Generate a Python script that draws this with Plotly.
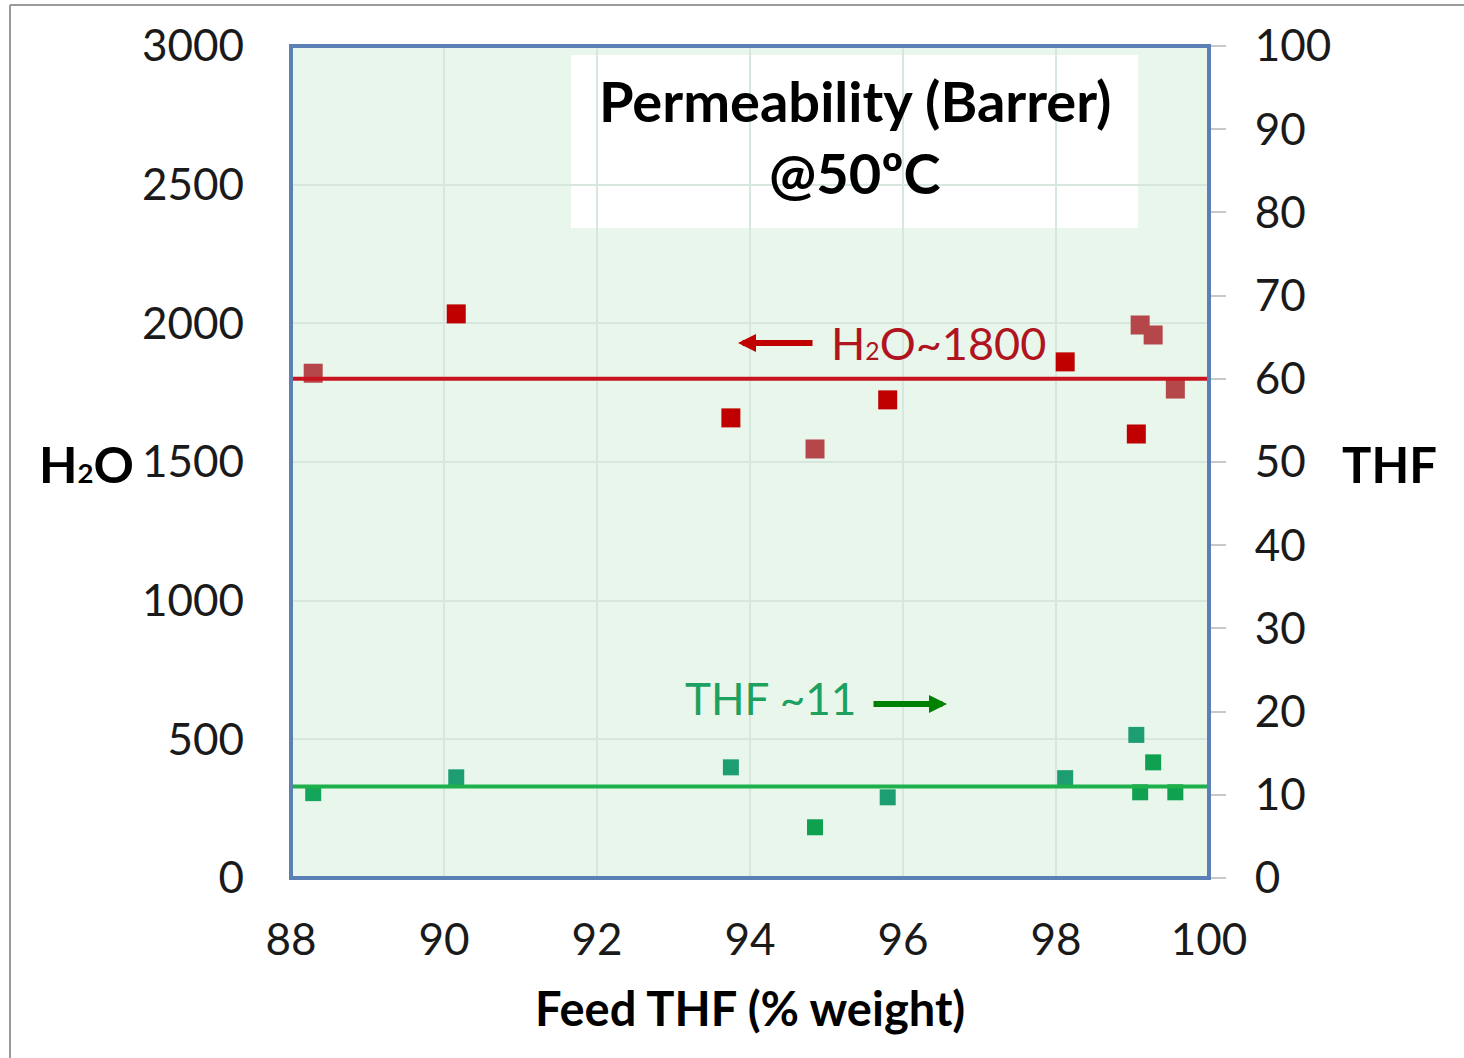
import plotly.graph_objects as go

# ---------------- data ----------------
feed_thf = [88.29, 90.16, 93.75, 94.85, 95.80, 98.12, 99.10, 99.27, 99.56, 99.05]
h2o_perm = [1820, 2034, 1659, 1547, 1724, 1861, 1994, 1958, 1763, 1601]
h2o_colors = ["#B5474A", "#C00000", "#C00000", "#B5474A", "#C00000",
              "#C00000", "#B5474A", "#B5474A", "#B5474A", "#C00000"]

feed_thf_2 = [88.29, 90.16, 93.75, 94.85, 95.80, 98.12, 99.05, 99.27, 99.10, 99.56]
thf_perm = [10.2, 12.1, 13.3, 6.1, 9.7, 12.0, 17.2, 13.9, 10.3, 10.3]
thf_colors = ["#13A55A", "#1C9E72", "#1C9E72", "#0FA050", "#1C9E72",
              "#1C9E72", "#1C9E72", "#0FA050", "#0FA050", "#0FA050"]

h2o_avg = 1800
thf_avg = 11

x_range = [88, 100]
y_left_range = [0, 3000]
y_right_range = [0, 100]

FONT = "Lato"

# plot-area pixel geometry
L, R, T, B = 291, 1209, 46, 878
W, H = 1464, 1058
PW, PH = R - L, B - T


def px(x):
    return (x - L) / PW


def py(y):
    return (B - y) / PH


fig = go.Figure()

fig.add_trace(go.Scatter(
    x=feed_thf, y=h2o_perm, mode="markers",
    marker=dict(symbol="square", size=19, color=h2o_colors, line=dict(width=0)),
    showlegend=False, yaxis="y"))

fig.add_trace(go.Scatter(
    x=feed_thf_2, y=thf_perm, mode="markers",
    marker=dict(symbol="square", size=16, color=thf_colors, line=dict(width=0)),
    showlegend=False, yaxis="y2"))

shapes = [
    # title box
    dict(type="rect", xref="paper", yref="paper", x0=px(571), x1=px(1138),
         y0=py(228), y1=py(55), fillcolor="white", line=dict(width=0), layer="below"),
    # average lines
    dict(type="line", xref="x", yref="y", x0=x_range[0], x1=x_range[1],
         y0=h2o_avg, y1=h2o_avg, line=dict(color="#C8141E", width=4)),
    dict(type="line", xref="x", yref="y2", x0=x_range[0], x1=x_range[1],
         y0=thf_avg, y1=thf_avg, line=dict(color="#1DB04B", width=4)),
    # plot border
    dict(type="rect", xref="paper", yref="paper", x0=0, x1=1, y0=0, y1=1,
         line=dict(color="#5B80B5", width=4)),
    # outer frame (left and top)
    dict(type="line", xref="paper", yref="paper", x0=px(10), x1=px(10),
         y0=py(1058), y1=py(5), line=dict(color="#9A9A9A", width=2)),
    dict(type="line", xref="paper", yref="paper", x0=px(10), x1=px(1464),
         y0=py(5), y1=py(5), line=dict(color="#9A9A9A", width=2)),
]


def label(x, y, text, size, color="black"):
    return dict(xref="paper", yref="paper", x=px(x), y=py(y), text=text,
                xanchor="center", yanchor="middle", showarrow=False,
                font=dict(family=FONT, size=size, color=color))


SUB2 = "<span style='font-size:0.55em'>2</span>"

annotations = [
    label(855, 100, "<b>Permeability (Barrer)</b>", 56),
    label(855, 172, "<b>@50ºC</b>", 56),
    label(938, 343, "H" + SUB2 + "O~1800", 45, "#B0141E"),
    label(770, 698, "THF ~11", 44, "#1DA060"),
    # arrows
    dict(xref="paper", yref="paper", x=px(738), y=py(343), ax=76, ay=0,
         text="", showarrow=True, arrowhead=2,
         arrowsize=0.6, arrowwidth=6, arrowcolor="#C00000"),
    dict(xref="paper", yref="paper", x=px(947), y=py(704), ax=-75, ay=0,
         text="", showarrow=True, arrowhead=2,
         arrowsize=0.6, arrowwidth=6, arrowcolor="#008000"),
    # axis titles
    label(86, 464, "<b>H" + SUB2 + "O</b>", 50),
    label(1389, 464, "<b>THF</b>", 49),
    label(750, 1008, "<b>Feed THF (% weight)</b>", 47),
]

grid_col = "#D8E7DD"

fig.update_layout(
    width=W, height=H,
    margin=dict(l=L, r=W - R, t=T, b=H - B, pad=0),
    paper_bgcolor="white",
    plot_bgcolor="#E8F6EC",
    font=dict(family=FONT, size=44, color="#1a1a1a"),
    xaxis=dict(range=x_range, dtick=2, tick0=88, showgrid=True, gridcolor=grid_col,
               gridwidth=1.5, zeroline=False, showline=False, ticks="",
               ticklabelstandoff=32, tickfont=dict(family=FONT, size=44)),
    yaxis=dict(range=y_left_range, dtick=500, showgrid=True, gridcolor=grid_col,
               gridwidth=1.5, zeroline=False, showline=False, ticks="",
               ticklabelstandoff=46, tickfont=dict(family=FONT, size=44)),
    yaxis2=dict(range=y_right_range, dtick=10, overlaying="y", side="right",
                showgrid=False, zeroline=False, showline=False, ticks="outside",
                ticklen=16, tickcolor="#C8C8C8", tickwidth=1.5,
                ticklabelstandoff=20, tickfont=dict(family=FONT, size=44)),
    shapes=shapes,
    annotations=annotations,
)

fig.write_html("out.html")
